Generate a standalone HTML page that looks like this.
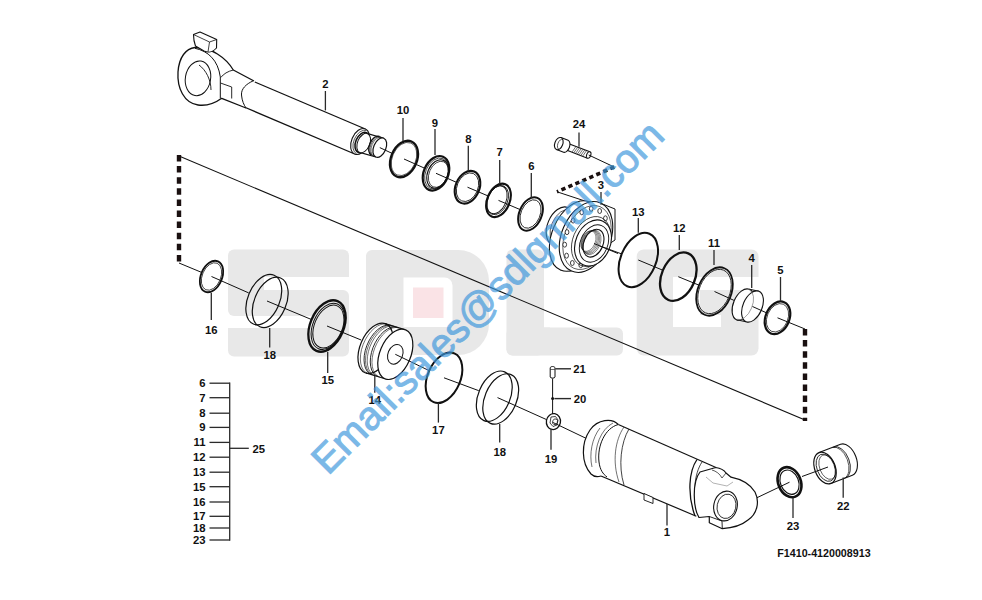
<!DOCTYPE html>
<html><head><meta charset="utf-8"><style>
html,body{margin:0;padding:0;background:#fff;}
svg{display:block;}
text{font-family:"Liberation Sans",sans-serif;font-weight:bold;font-size:11.3px;fill:#111;}
.wm{font-family:"Liberation Sans",sans-serif;font-weight:normal;font-size:40px;fill:#3d97dc;stroke:#3d97dc;stroke-width:1.0px;}
</style></head><body>
<svg width="982" height="600" viewBox="0 0 982 600">
<rect x="228" y="249.5" width="121" height="27.5" rx="6" fill="#e8e8e8"/>
<rect x="300" y="265" width="49" height="12" rx="0" fill="#e8e8e8"/>
<rect x="228" y="290" width="121" height="26" rx="6" fill="#e8e8e8"/>
<rect x="228" y="328" width="121" height="28.5" rx="6" fill="#e8e8e8"/>
<rect x="228" y="328" width="40" height="12" rx="0" fill="#e8e8e8"/>
<rect x="228" y="270" width="36" height="27" rx="0" fill="#e8e8e8"/>
<rect x="313" y="310" width="36" height="25" rx="0" fill="#e8e8e8"/>
<path d="M372,250 H458 A31,31 0 0 1 489,281 V324 A31,31 0 0 1 458,355 H372 A6,6 0 0 1 366,349 V256 A6,6 0 0 1 372,250 Z" fill="#e8e8e8" stroke="none" stroke-width="0" stroke-linejoin="round" />
<path d="M403.5,277.5 H444.5 A8,8 0 0 1 452.5,285.5 V324 A3,3 0 0 1 449.5,327 H403.5 Z" fill="white" stroke="none" stroke-width="0" stroke-linejoin="round" />
<rect x="413" y="287.5" width="30.5" height="30.5" rx="0" fill="#fae3e6"/>
<rect x="506.5" y="249.5" width="37.5" height="106" rx="6" fill="#e8e8e8"/>
<rect x="506.5" y="327.5" width="116.5" height="28" rx="6" fill="#e8e8e8"/>
<rect x="530" y="327.5" width="20" height="15" rx="0" fill="#e8e8e8"/>
<rect x="636.7" y="249.5" width="121.8" height="106" rx="7" fill="#e8e8e8"/>
<rect x="673" y="277" width="86" height="13" rx="0" fill="white"/>
<rect x="673" y="277" width="27" height="50" rx="0" fill="white"/>
<rect x="673" y="315" width="48" height="12" rx="0" fill="white"/>
<line x1="179" y1="156" x2="805" y2="420" stroke="#111" stroke-width="1.1" />
<line x1="179" y1="155" x2="179" y2="264" stroke="#1a1010" stroke-width="4.4" stroke-dasharray="6.5 4.6"/>
<line x1="805" y1="329" x2="805" y2="421" stroke="#1a1010" stroke-width="4.4" stroke-dasharray="6.5 4.6"/>
<path d="M254.81,81.98 L365.31,128.98 L354.69,154.02 L244.19,107.02 Z" fill="white" stroke="none" stroke-width="0" stroke-linejoin="round" />
<line x1="254.81" y1="81.98" x2="365.31" y2="128.98" stroke="#111" stroke-width="1.3" />
<line x1="244.19" y1="107.02" x2="354.69" y2="154.02" stroke="#111" stroke-width="1.3" />
<ellipse cx="360" cy="141.5" rx="8.43" ry="13.6" transform="rotate(23 360 141.5)" fill="white" stroke="#111" stroke-width="1.1" />
<path d="M366.4,130.53 A7.81,12.6 23.0 0 0 356.55,153.72" fill="none" stroke="#111" stroke-width="0.7" stroke-linejoin="round" />
<ellipse cx="362.3" cy="142.48" rx="6.57" ry="10.6" transform="rotate(23 362.3 142.48)" fill="white" stroke="#111" stroke-width="1.5" />
<path d="M367.67,133.67 L383.79,138.21 L375.81,156.99 L359.7,152.45 Z" fill="white" stroke="none" stroke-width="0" stroke-linejoin="round" />
<line x1="367.67" y1="133.67" x2="383.79" y2="138.21" stroke="#111" stroke-width="1.2" />
<line x1="359.7" y1="152.45" x2="375.81" y2="156.99" stroke="#111" stroke-width="1.2" />
<ellipse cx="363.68" cy="143.06" rx="6.12" ry="10.2" transform="rotate(23 363.68 143.06)" fill="white" stroke="#111" stroke-width="1.0" />
<path d="M379.37,136.34 A6.12,10.2 23.0 0 0 371.4,155.11" fill="none" stroke="#111" stroke-width="1.3" stroke-linejoin="round" />
<path d="M380.75,136.92 A6.12,10.2 23.0 0 0 372.78,155.7" fill="none" stroke="#111" stroke-width="0.7" stroke-linejoin="round" />
<path d="M381.85,137.39 A6.12,10.2 23.0 0 0 373.88,156.17" fill="none" stroke="#111" stroke-width="0.6" stroke-linejoin="round" />
<ellipse cx="379.8" cy="147.6" rx="6.12" ry="10.2" transform="rotate(23 379.8 147.6)" fill="white" stroke="#111" stroke-width="1.2" />
<path d="M195,47.5 C211,47 226,58 233.3,70 L254,81 L246,108 L221.7,98.3 C214,104 206,106 198,105 C184,103 177,88 178,72 C179,57 186,48.5 195,47.5 Z" fill="white" stroke="none" stroke-width="0" stroke-linejoin="round" />
<path d="M254,81 L233.3,70 C226,58 211,47 195,47.5 C186,48.5 179,57 178,72 C177,88 184,103 198,105 C206,106 214,104 221.7,98.3 L246,108" fill="none" stroke="#111" stroke-width="1.3" stroke-linejoin="round" />
<path d="M195,48.3 C208,51 218,60 220.3,77 L220.3,98.3" fill="none" stroke="#111" stroke-width="1.0" stroke-linejoin="round" />
<path d="M233.3,70 Q225,72 220.8,77.5" fill="none" stroke="#111" stroke-width="0.9" stroke-linejoin="round" />
<path d="M253.3,80.8 C246,84 241,89 241.5,95 C242,101 244,105 246,108" fill="none" stroke="#111" stroke-width="1.0" stroke-linejoin="round" />
<path d="M220.5,83 L231.7,87 L231.7,98.5" fill="none" stroke="#111" stroke-width="0.9" stroke-linejoin="round" />
<ellipse cx="198" cy="78.3" rx="12.6" ry="17.5" transform="rotate(10 198 78.3)" fill="none" stroke="#111" stroke-width="1.0" />
<path d="M199,65 C206,70 211,80 211,90" fill="none" stroke="#111" stroke-width="0.9" stroke-linejoin="round" />
<path d="M193.5,34.5 L200,32 L216.7,39.5 L216.5,48 C213,52 208,53 204,51 L195.5,46 C194,42 193.5,38 193.5,34.5 Z" fill="white" stroke="#111" stroke-width="1.1" stroke-linejoin="round" />
<path d="M193.5,34.5 L209.5,42 L216.7,39.5 M209.5,42 L208,52" fill="none" stroke="#111" stroke-width="0.8" stroke-linejoin="round" />
<text x="325.4" y="88.3" text-anchor="middle">2</text>
<line x1="325.4" y1="91" x2="325.4" y2="110.4" stroke="#2a2a2a" stroke-width="1.3" />
<line x1="379.8" y1="147.6" x2="392.69" y2="153.67" stroke="#111" stroke-width="1.0" />
<ellipse cx="404" cy="159" rx="12.92" ry="19" transform="rotate(23 404 159)" fill="none" stroke="#111" stroke-width="2.3" />
<ellipse cx="404" cy="159" rx="11.76" ry="17.3" transform="rotate(23 404 159)" fill="none" stroke="#111" stroke-width="0.6" />
<text x="403" y="113.8" text-anchor="middle">10</text>
<line x1="403" y1="118" x2="403" y2="141" stroke="#2a2a2a" stroke-width="1.3" />
<line x1="404" y1="159" x2="425.04" y2="168.4" stroke="#111" stroke-width="1.0" />
<ellipse cx="436" cy="173.3" rx="12.24" ry="18" transform="rotate(23 436 173.3)" fill="none" stroke="#111" stroke-width="2.2" />
<ellipse cx="436.55" cy="173.53" rx="11.02" ry="16.2" transform="rotate(23 436.55 173.53)" fill="none" stroke="#111" stroke-width="0.7" />
<ellipse cx="437.66" cy="174" rx="10.06" ry="14.8" transform="rotate(23 437.66 174)" fill="none" stroke="#111" stroke-width="1.1" />
<ellipse cx="438.39" cy="174.32" rx="9.25" ry="13.6" transform="rotate(23 438.39 174.32)" fill="none" stroke="#111" stroke-width="0.7" />
<text x="435" y="126.8" text-anchor="middle">9</text>
<line x1="435" y1="129" x2="435" y2="155" stroke="#2a2a2a" stroke-width="1.3" />
<line x1="436" y1="173.3" x2="456.98" y2="182.56" stroke="#111" stroke-width="1.0" />
<ellipse cx="467.5" cy="187.2" rx="11.9" ry="17" transform="rotate(23 467.5 187.2)" fill="none" stroke="#111" stroke-width="2.1" />
<ellipse cx="467.5" cy="187.2" rx="10.43" ry="14.9" transform="rotate(23 467.5 187.2)" fill="none" stroke="#111" stroke-width="0.8" />
<text x="468.3" y="142.5" text-anchor="middle">8</text>
<line x1="468.3" y1="145.8" x2="468.3" y2="170.8" stroke="#2a2a2a" stroke-width="1.3" />
<line x1="467.5" y1="187.2" x2="488.38" y2="196.09" stroke="#111" stroke-width="1.0" />
<ellipse cx="498.5" cy="200.4" rx="11.2" ry="17.5" transform="rotate(23 498.5 200.4)" fill="none" stroke="#111" stroke-width="2.1" />
<ellipse cx="497.76" cy="200.09" rx="9.79" ry="15.3" transform="rotate(23 497.76 200.09)" fill="none" stroke="#111" stroke-width="0.8" />
<ellipse cx="496.84" cy="199.7" rx="9.34" ry="14.6" transform="rotate(23 496.84 199.7)" fill="none" stroke="#111" stroke-width="0.9" />
<text x="499.7" y="155.8" text-anchor="middle">7</text>
<line x1="499.7" y1="160" x2="499.7" y2="184" stroke="#2a2a2a" stroke-width="1.3" />
<line x1="498.5" y1="200.4" x2="520.38" y2="209.7" stroke="#111" stroke-width="1.0" />
<ellipse cx="530.5" cy="214" rx="11.2" ry="17.5" transform="rotate(23 530.5 214)" fill="none" stroke="#111" stroke-width="2.0" />
<ellipse cx="530.5" cy="214" rx="9.54" ry="14.9" transform="rotate(23 530.5 214)" fill="none" stroke="#111" stroke-width="0.8" />
<text x="531.3" y="169.8" text-anchor="middle">6</text>
<line x1="531.3" y1="173" x2="531.3" y2="198" stroke="#2a2a2a" stroke-width="1.3" />
<path d="M567.48,143.23 L589.9,151.82 L587.5,158.18 L565.09,149.6 Z" fill="white" stroke="none" stroke-width="0" stroke-linejoin="round" />
<line x1="567.48" y1="143.23" x2="589.9" y2="151.82" stroke="#111" stroke-width="1.1" />
<line x1="565.09" y1="149.6" x2="587.5" y2="158.18" stroke="#111" stroke-width="1.1" />
<line x1="575.8" y1="146.68" x2="572.12" y2="151.92" stroke="#111" stroke-width="0.6" />
<line x1="577.58" y1="147.35" x2="573.9" y2="152.59" stroke="#111" stroke-width="0.6" />
<line x1="579.36" y1="148.02" x2="575.68" y2="153.26" stroke="#111" stroke-width="0.6" />
<line x1="581.14" y1="148.69" x2="577.46" y2="153.93" stroke="#111" stroke-width="0.6" />
<line x1="582.92" y1="149.35" x2="579.24" y2="154.59" stroke="#111" stroke-width="0.6" />
<line x1="584.7" y1="150.02" x2="581.02" y2="155.26" stroke="#111" stroke-width="0.6" />
<line x1="586.47" y1="150.69" x2="582.8" y2="155.93" stroke="#111" stroke-width="0.6" />
<ellipse cx="588.7" cy="155" rx="2.04" ry="3.4" transform="rotate(20.6 588.7 155)" fill="white" stroke="#111" stroke-width="1.0" />
<path d="M561.05,137.61 L568.07,140.25 A3.84,6.4 20.6 0 1 563.57,152.23 L556.55,149.59 Z" fill="white" stroke="#111" stroke-width="1.1" stroke-linejoin="round" />
<ellipse cx="558.8" cy="143.6" rx="3.97" ry="6.4" transform="rotate(20.6 558.8 143.6)" fill="white" stroke="#111" stroke-width="1.1" />
<path d="M563.11,139.24 A3.47,5.6 20.6 0 0 559.17,149.72" fill="none" stroke="#111" stroke-width="0.7" stroke-linejoin="round" />
<text x="579" y="128.3" text-anchor="middle">24</text>
<line x1="579" y1="132.5" x2="579" y2="146.7" stroke="#2a2a2a" stroke-width="1.3" />
<line x1="588.7" y1="155" x2="614.2" y2="167" stroke="#111" stroke-width="1.0" />
<line x1="614.2" y1="167" x2="557" y2="191.8" stroke="#1a1010" stroke-width="3.6" stroke-dasharray="4.3 3.3"/>
<line x1="557" y1="191.8" x2="589.5" y2="202.5" stroke="#111" stroke-width="1.0" />
<path d="M600,203 L615,209 L615,240 L610.5,243" fill="white" stroke="#111" stroke-width="1.0" stroke-linejoin="round" />
<ellipse cx="560" cy="226" rx="12.4" ry="20" transform="rotate(23 560 226)" fill="white" stroke="#111" stroke-width="1.1" />
<path d="M570.42,210.01 A11.78,19 23.0 0 0 555.58,244.99" fill="none" stroke="#111" stroke-width="0.7" stroke-linejoin="round" />
<path d="M589.46,201.94 L600.46,202.94 L571.54,271.06 L560.54,270.06 Z" fill="white" stroke="none" stroke-width="0" stroke-linejoin="round" />
<line x1="589.46" y1="201.94" x2="600.46" y2="202.94" stroke="#111" stroke-width="1.1" />
<line x1="560.54" y1="270.06" x2="571.54" y2="271.06" stroke="#111" stroke-width="1.1" />
<ellipse cx="575" cy="236" rx="22.94" ry="37" transform="rotate(23 575 236)" fill="white" stroke="#111" stroke-width="1.1" />
<ellipse cx="586" cy="237" rx="24.42" ry="37" transform="rotate(23 586 237)" fill="white" stroke="#111" stroke-width="1.1" />
<ellipse cx="587" cy="237.5" rx="22.11" ry="33.5" transform="rotate(23 587 237.5)" fill="none" stroke="#111" stroke-width="0.6" />
<ellipse cx="573.1" cy="220.56" rx="1.88" ry="2.5" transform="rotate(0 573.1 220.56)" fill="white" stroke="#111" stroke-width="0.8" />
<ellipse cx="581.74" cy="212.25" rx="1.88" ry="2.5" transform="rotate(0 581.74 212.25)" fill="white" stroke="#111" stroke-width="0.8" />
<ellipse cx="591.22" cy="208.84" rx="1.88" ry="2.5" transform="rotate(0 591.22 208.84)" fill="white" stroke="#111" stroke-width="0.8" />
<ellipse cx="599.67" cy="211" rx="1.88" ry="2.5" transform="rotate(0 599.67 211)" fill="white" stroke="#111" stroke-width="0.8" />
<ellipse cx="605.41" cy="218.32" rx="1.88" ry="2.5" transform="rotate(0 605.41 218.32)" fill="white" stroke="#111" stroke-width="0.8" />
<ellipse cx="607.3" cy="229.33" rx="1.88" ry="2.5" transform="rotate(0 607.3 229.33)" fill="white" stroke="#111" stroke-width="0.8" />
<ellipse cx="604.98" cy="241.87" rx="1.88" ry="2.5" transform="rotate(0 604.98 241.87)" fill="white" stroke="#111" stroke-width="0.8" />
<ellipse cx="598.9" cy="253.44" rx="1.88" ry="2.5" transform="rotate(0 598.9 253.44)" fill="white" stroke="#111" stroke-width="0.8" />
<ellipse cx="590.26" cy="261.75" rx="1.88" ry="2.5" transform="rotate(0 590.26 261.75)" fill="white" stroke="#111" stroke-width="0.8" />
<ellipse cx="580.78" cy="265.16" rx="1.88" ry="2.5" transform="rotate(0 580.78 265.16)" fill="white" stroke="#111" stroke-width="0.8" />
<ellipse cx="572.33" cy="263" rx="1.88" ry="2.5" transform="rotate(0 572.33 263)" fill="white" stroke="#111" stroke-width="0.8" />
<ellipse cx="566.59" cy="255.68" rx="1.88" ry="2.5" transform="rotate(0 566.59 255.68)" fill="white" stroke="#111" stroke-width="0.8" />
<ellipse cx="564.7" cy="244.67" rx="1.88" ry="2.5" transform="rotate(0 564.7 244.67)" fill="white" stroke="#111" stroke-width="0.8" />
<ellipse cx="567.02" cy="232.13" rx="1.88" ry="2.5" transform="rotate(0 567.02 232.13)" fill="white" stroke="#111" stroke-width="0.8" />
<ellipse cx="591" cy="241.5" rx="18.2" ry="26" transform="rotate(23 591 241.5)" fill="none" stroke="#111" stroke-width="0.7" />
<ellipse cx="593" cy="243" rx="17.28" ry="24" transform="rotate(23 593 243)" fill="white" stroke="#111" stroke-width="1.1" />
<ellipse cx="594" cy="243.5" rx="13.65" ry="19.5" transform="rotate(23 594 243.5)" fill="none" stroke="#111" stroke-width="0.9" />
<ellipse cx="593.5" cy="243.2" rx="9.57" ry="14.5" transform="rotate(23 593.5 243.2)" fill="white" stroke="#111" stroke-width="1.1" />
<ellipse cx="592" cy="242.5" rx="8.19" ry="12.8" transform="rotate(23 592 242.5)" fill="none" stroke="#111" stroke-width="0.45" />
<ellipse cx="591.1" cy="242.15" rx="7.87" ry="12.3" transform="rotate(23 591.1 242.15)" fill="none" stroke="#111" stroke-width="0.45" />
<ellipse cx="590.2" cy="241.8" rx="7.55" ry="11.8" transform="rotate(23 590.2 241.8)" fill="none" stroke="#111" stroke-width="0.45" />
<ellipse cx="589.3" cy="241.45" rx="7.23" ry="11.3" transform="rotate(23 589.3 241.45)" fill="none" stroke="#111" stroke-width="0.45" />
<ellipse cx="588.4" cy="241.1" rx="6.91" ry="10.8" transform="rotate(23 588.4 241.1)" fill="none" stroke="#111" stroke-width="0.45" />
<line x1="594" y1="243.5" x2="618" y2="253.5" stroke="#111" stroke-width="1.0" />
<text x="601" y="188.8" text-anchor="middle">3</text>
<line x1="601" y1="192" x2="601" y2="204.7" stroke="#2a2a2a" stroke-width="1.3" />
<line x1="600" y1="246" x2="621.86" y2="253.99" stroke="#111" stroke-width="1.0" />
<ellipse cx="638.3" cy="260" rx="17.67" ry="28.5" transform="rotate(23 638.3 260)" fill="none" stroke="#111" stroke-width="2.0" />
<text x="638.3" y="215.5" text-anchor="middle">13</text>
<line x1="638.3" y1="218" x2="638.3" y2="232.7" stroke="#2a2a2a" stroke-width="1.3" />
<line x1="638.3" y1="260" x2="662.15" y2="269.96" stroke="#111" stroke-width="1.0" />
<ellipse cx="678.3" cy="276.7" rx="16.7" ry="25.3" transform="rotate(23 678.3 276.7)" fill="none" stroke="#111" stroke-width="2.3" />
<text x="679.3" y="231.8" text-anchor="middle">12</text>
<line x1="679.3" y1="235" x2="679.3" y2="250" stroke="#2a2a2a" stroke-width="1.3" />
<line x1="678.3" y1="276.7" x2="698.76" y2="285.07" stroke="#111" stroke-width="1.0" />
<ellipse cx="714.5" cy="291.5" rx="16.7" ry="25.3" transform="rotate(23 714.5 291.5)" fill="none" stroke="#111" stroke-width="1.8" />
<ellipse cx="714.5" cy="291.5" rx="15.31" ry="23.2" transform="rotate(23 714.5 291.5)" fill="none" stroke="#111" stroke-width="0.8" />
<text x="714" y="246.8" text-anchor="middle">11</text>
<line x1="714" y1="250" x2="714" y2="265" stroke="#2a2a2a" stroke-width="1.3" />
<line x1="714.5" y1="291.5" x2="733.9" y2="300.35" stroke="#111" stroke-width="1.0" />
<path d="M749.45,289.31 L758.95,291.31 L746.05,321.69 L736.55,319.69 Z" fill="white" stroke="none" stroke-width="0" stroke-linejoin="round" />
<line x1="749.45" y1="289.31" x2="758.95" y2="291.31" stroke="#111" stroke-width="1.1" />
<line x1="736.55" y1="319.69" x2="746.05" y2="321.69" stroke="#111" stroke-width="1.1" />
<ellipse cx="743" cy="304.5" rx="9.57" ry="16.5" transform="rotate(23 743 304.5)" fill="white" stroke="#111" stroke-width="1.1" />
<ellipse cx="752.5" cy="306.5" rx="9.57" ry="16.5" transform="rotate(23 752.5 306.5)" fill="white" stroke="#111" stroke-width="1.1" />
<path d="M749.25,289.77 A9.28,16 23.0 0 1 736.75,319.23" fill="none" stroke="#777" stroke-width="0.7" stroke-linejoin="round" />
<text x="751.7" y="261.8" text-anchor="middle">4</text>
<line x1="751.7" y1="265" x2="751.7" y2="288" stroke="#2a2a2a" stroke-width="1.3" />
<line x1="752.5" y1="306.5" x2="767.48" y2="313.27" stroke="#111" stroke-width="1.0" />
<ellipse cx="777.5" cy="317.8" rx="11.9" ry="17" transform="rotate(23 777.5 317.8)" fill="none" stroke="#111" stroke-width="2.2" />
<ellipse cx="777.5" cy="317.8" rx="10.36" ry="14.8" transform="rotate(23 777.5 317.8)" fill="none" stroke="#111" stroke-width="0.7" />
<text x="780.5" y="273.8" text-anchor="middle">5</text>
<line x1="780.5" y1="277" x2="780.5" y2="301" stroke="#2a2a2a" stroke-width="1.3" />
<line x1="777.5" y1="317.8" x2="805" y2="329" stroke="#111" stroke-width="1.0" />
<line x1="179" y1="263" x2="201.8" y2="272.47" stroke="#111" stroke-width="1.0" />
<ellipse cx="211.5" cy="276.5" rx="10.56" ry="16.5" transform="rotate(23 211.5 276.5)" fill="none" stroke="#111" stroke-width="1.8" />
<ellipse cx="211.5" cy="276.5" rx="9.22" ry="14.4" transform="rotate(23 211.5 276.5)" fill="none" stroke="#111" stroke-width="0.7" />
<text x="211.3" y="334.2" text-anchor="middle">16</text>
<line x1="211.3" y1="293" x2="211.3" y2="320" stroke="#2a2a2a" stroke-width="1.3" />
<line x1="211.5" y1="276.5" x2="248.7" y2="292.92" stroke="#111" stroke-width="1.0" />
<ellipse cx="263.78" cy="299.63" rx="15.9" ry="26.5" transform="rotate(23 263.78 299.63)" fill="none" stroke="#111" stroke-width="1.2" />
<ellipse cx="270.22" cy="302.37" rx="15.9" ry="26.5" transform="rotate(23 270.22 302.37)" fill="none" stroke="#111" stroke-width="1.2" />
<text x="269.7" y="358.8" text-anchor="middle">18</text>
<line x1="269.7" y1="328" x2="269.7" y2="347.6" stroke="#2a2a2a" stroke-width="1.3" />
<line x1="267" y1="301" x2="311.77" y2="319.65" stroke="#111" stroke-width="1.0" />
<ellipse cx="327" cy="326" rx="16.74" ry="27" transform="rotate(23 327 326)" fill="none" stroke="#111" stroke-width="2.3" />
<ellipse cx="327.92" cy="326.39" rx="15.07" ry="24.3" transform="rotate(23 327.92 326.39)" fill="none" stroke="#111" stroke-width="1.0" />
<ellipse cx="328.38" cy="326.59" rx="13.95" ry="22.5" transform="rotate(23 328.38 326.59)" fill="none" stroke="#111" stroke-width="1.0" />
<text x="327.7" y="383.8" text-anchor="middle">15</text>
<line x1="327.7" y1="352" x2="327.7" y2="373" stroke="#2a2a2a" stroke-width="1.3" />
<line x1="327" y1="326" x2="361.17" y2="340.02" stroke="#111" stroke-width="1.0" />
<path d="M384.95,323.58 L404.75,329.58 L385.85,379.02 L366.05,373.02 Z" fill="white" stroke="none" stroke-width="0" stroke-linejoin="round" />
<ellipse cx="375.5" cy="348.3" rx="15.37" ry="26.5" transform="rotate(23 375.5 348.3)" fill="white" stroke="#111" stroke-width="1.2" />
<line x1="384.95" y1="323.58" x2="404.75" y2="329.58" stroke="#111" stroke-width="1.2" />
<line x1="366.05" y1="373.02" x2="385.85" y2="379.02" stroke="#111" stroke-width="1.2" />
<path d="M387.33,324.3 A15.37,26.5 23 0 0 368.42,373.74" fill="none" stroke="#111" stroke-width="0.6" stroke-linejoin="round" />
<path d="M390.89,325.38 A15.37,26.5 23 0 0 371.99,374.82" fill="none" stroke="#111" stroke-width="0.9" stroke-linejoin="round" />
<path d="M392.48,325.86 A15.37,26.5 23 0 0 373.57,375.3" fill="none" stroke="#111" stroke-width="0.6" stroke-linejoin="round" />
<path d="M394.06,326.34 A15.37,26.5 23 0 0 375.16,375.78" fill="none" stroke="#111" stroke-width="0.6" stroke-linejoin="round" />
<path d="M397.23,327.3 A15.37,26.5 23 0 0 378.32,376.74" fill="none" stroke="#111" stroke-width="0.9" stroke-linejoin="round" />
<path d="M398.81,327.78 A15.37,26.5 23 0 0 379.91,377.22" fill="none" stroke="#111" stroke-width="0.6" stroke-linejoin="round" />
<ellipse cx="395.3" cy="354.3" rx="15.37" ry="26.5" transform="rotate(23 395.3 354.3)" fill="white" stroke="#111" stroke-width="1.2" />
<ellipse cx="395.3" cy="354.3" rx="7.34" ry="10.2" transform="rotate(23 395.3 354.3)" fill="none" stroke="#111" stroke-width="1.0" />
<text x="374.8" y="404.3" text-anchor="middle">14</text>
<line x1="374.8" y1="376" x2="374.8" y2="392.7" stroke="#2a2a2a" stroke-width="1.3" />
<line x1="395.3" y1="354.3" x2="429.14" y2="370.63" stroke="#111" stroke-width="1.0" />
<ellipse cx="444" cy="377.8" rx="16.43" ry="26.5" transform="rotate(23 444 377.8)" fill="none" stroke="#111" stroke-width="2.0" />
<text x="438.4" y="434.3" text-anchor="middle">17</text>
<line x1="438.4" y1="403" x2="438.4" y2="422.6" stroke="#2a2a2a" stroke-width="1.3" />
<line x1="444" y1="377.8" x2="478.74" y2="390.66" stroke="#111" stroke-width="1.0" />
<ellipse cx="494.28" cy="396.23" rx="15.9" ry="26.5" transform="rotate(23 494.28 396.23)" fill="none" stroke="#111" stroke-width="1.2" />
<ellipse cx="500.72" cy="398.97" rx="15.9" ry="26.5" transform="rotate(23 500.72 398.97)" fill="none" stroke="#111" stroke-width="1.2" />
<text x="499.7" y="455.6" text-anchor="middle">18</text>
<line x1="499.7" y1="424" x2="499.7" y2="442.6" stroke="#2a2a2a" stroke-width="1.3" />
<line x1="497.5" y1="397.6" x2="546.61" y2="419.63" stroke="#111" stroke-width="1.0" />
<ellipse cx="553.4" cy="421.6" rx="7.04" ry="8" transform="rotate(10 553.4 421.6)" fill="white" stroke="#111" stroke-width="1.3" />
<path d="M551,417 L555.5,416.5 L558,420 L557,425 L553,426.5 L550,423 Z" fill="none" stroke="#111" stroke-width="0.8" stroke-linejoin="round" />
<ellipse cx="555" cy="421.8" rx="2.4" ry="3" transform="rotate(23 555 421.8)" fill="none" stroke="#111" stroke-width="0.7" />
<text x="551" y="462.8" text-anchor="middle">19</text>
<line x1="551" y1="429" x2="551" y2="449.7" stroke="#2a2a2a" stroke-width="1.3" />
<path d="M550.2,368 C550.2,366 555,366 555,368 L555,377 C555,378.5 550.2,378.5 550.2,377 Z" fill="white" stroke="#111" stroke-width="1.0" stroke-linejoin="round" />
<line x1="550.4" y1="369.5" x2="554.8" y2="369.5" stroke="#111" stroke-width="0.6" />
<line x1="552.6" y1="378.5" x2="552.6" y2="414" stroke="#111" stroke-width="1.0" />
<line x1="555.3" y1="368.8" x2="571" y2="368.8" stroke="#2a2a2a" stroke-width="1.4" />
<text x="579.5" y="373" text-anchor="middle">21</text>
<circle cx="552.6" cy="398.4" r="1.5" fill="#111"/>
<line x1="554.4" y1="398.6" x2="571" y2="398.6" stroke="#2a2a2a" stroke-width="1.4" />
<text x="580" y="402.8" text-anchor="middle">20</text>
<line x1="553" y1="422.5" x2="587.37" y2="438.95" stroke="#111" stroke-width="1.0" />
<path d="M618.3,424.5 L716,467.5 L696.3,516.2 L601,476 Z" fill="white" stroke="none" stroke-width="0" stroke-linejoin="round" />
<line x1="618.3" y1="424.5" x2="716" y2="467.5" stroke="#111" stroke-width="1.2" />
<line x1="601" y1="476" x2="696.3" y2="516.2" stroke="#111" stroke-width="1.2" />
<path d="M618.3,424.5 C612,418 598,419 590,430 C581,443 581,463 591,474 C594,477 598,477 601,476" fill="white" stroke="#111" stroke-width="1.2" stroke-linejoin="round" />
<path d="M618.3,424.5 C605,428 597,446 599,462 C600,470 603,474 607,477" fill="none" stroke="#111" stroke-width="1.0" stroke-linejoin="round" />
<path d="M613,423 C601,429 594,447 596,463" fill="none" stroke="#111" stroke-width="0.6" stroke-linejoin="round" />
<path d="M600,428 C592,438 589,454 592,467" fill="none" stroke="#111" stroke-width="0.6" stroke-linejoin="round" />
<path d="M624,427 C615,440 612,462 619,482" fill="none" stroke="#111" stroke-width="0.6" stroke-linejoin="round" />
<path d="M629,429 C621,442 618,466 624,485" fill="none" stroke="#111" stroke-width="0.8" stroke-linejoin="round" />
<path d="M697,459.5 C689,471 687,494 695,516" fill="none" stroke="#111" stroke-width="1.3" stroke-linejoin="round" />
<path d="M702,462 C694,474 692,496 699,517.5" fill="none" stroke="#111" stroke-width="0.8" stroke-linejoin="round" />
<path d="M715.8,467.5 C720,468 724,470 726,473 L731,477.2 C740,479 750,484 755,492 C760,502 757,514 748,520 C742,525 733,528 722.3,528.7 L709.3,522.7 L709.3,516.5 L699,517.5 C693,508 692,482 700,472 Z" fill="white" stroke="#111" stroke-width="1.2" stroke-linejoin="round" />
<path d="M712,470 C716,471 720,474 722,478 L726,473" fill="none" stroke="#111" stroke-width="0.7" stroke-linejoin="round" />
<path d="M706,477 L713,483 L727,486 L733,482" fill="none" stroke="#666" stroke-width="0.5" stroke-linejoin="round" />
<ellipse cx="725.5" cy="506" rx="11.7" ry="15" transform="rotate(12 725.5 506)" fill="white" stroke="#111" stroke-width="1.1" />
<ellipse cx="726.5" cy="506.3" rx="9.35" ry="12.3" transform="rotate(12 726.5 506.3)" fill="none" stroke="#111" stroke-width="0.8" />
<path d="M709.3,516.5 L722,521 L722.3,528.7" fill="none" stroke="#111" stroke-width="0.9" stroke-linejoin="round" />
<path d="M644,493.5 L653,497.5 L653,503.5 L644,500 Z" fill="white" stroke="#111" stroke-width="0.9" stroke-linejoin="round" />
<text x="667" y="535.7" text-anchor="middle">1</text>
<line x1="667" y1="504" x2="667" y2="525.5" stroke="#2a2a2a" stroke-width="1.3" />
<line x1="757" y1="497.7" x2="789.5" y2="482.2" stroke="#111" stroke-width="1.0" />
<ellipse cx="789.5" cy="482.2" rx="11.23" ry="15.6" transform="rotate(-22 789.5 482.2)" fill="none" stroke="#111" stroke-width="2.6" />
<ellipse cx="789.5" cy="482.2" rx="9.07" ry="12.6" transform="rotate(-22 789.5 482.2)" fill="none" stroke="#111" stroke-width="1.2" />
<text x="793" y="529.8" text-anchor="middle">23</text>
<line x1="793" y1="497.7" x2="793" y2="518" stroke="#2a2a2a" stroke-width="1.3" />
<path d="M819.09,452.6 L840.56,444.35 A9.9,16.5 -21 0 1 852.39,475.16 L830.91,483.4 Z" fill="white" stroke="#111" stroke-width="1.1" stroke-linejoin="round" />
<path d="M832.16,447.58 A9.9,16.5 -21 0 1 843.98,478.39" fill="none" stroke="#111" stroke-width="0.7" stroke-linejoin="round" />
<path d="M833.56,447.04 A9.9,16.5 -21 0 1 845.38,477.85" fill="none" stroke="#111" stroke-width="0.9" stroke-linejoin="round" />
<ellipse cx="825" cy="468" rx="10.23" ry="16.5" transform="rotate(-21 825 468)" fill="white" stroke="#111" stroke-width="1.2" />
<ellipse cx="825.75" cy="467.71" rx="8.8" ry="14.2" transform="rotate(-21 825.75 467.71)" fill="none" stroke="#111" stroke-width="0.8" />
<ellipse cx="827.33" cy="467.1" rx="7.68" ry="12.8" transform="rotate(-21 827.33 467.1)" fill="none" stroke="#111" stroke-width="0.6" />
<line x1="802" y1="476.5" x2="828" y2="467" stroke="#111" stroke-width="1.0" />
<text x="843.2" y="509.6" text-anchor="middle">22</text>
<line x1="843.2" y1="477.6" x2="843.2" y2="497.8" stroke="#2a2a2a" stroke-width="1.3" />
<text x="205.5" y="387" text-anchor="end">6</text>
<line x1="209.5" y1="383.2" x2="229.7" y2="383.2" stroke="#2a2a2a" stroke-width="1.3" />
<text x="205.5" y="401.5" text-anchor="end">7</text>
<line x1="209.5" y1="397.7" x2="229.7" y2="397.7" stroke="#2a2a2a" stroke-width="1.3" />
<text x="205.5" y="417" text-anchor="end">8</text>
<line x1="209.5" y1="413.2" x2="229.7" y2="413.2" stroke="#2a2a2a" stroke-width="1.3" />
<text x="205.5" y="431.2" text-anchor="end">9</text>
<line x1="209.5" y1="427.4" x2="229.7" y2="427.4" stroke="#2a2a2a" stroke-width="1.3" />
<text x="205.5" y="446.2" text-anchor="end">11</text>
<line x1="209.5" y1="442.4" x2="229.7" y2="442.4" stroke="#2a2a2a" stroke-width="1.3" />
<text x="205.5" y="461" text-anchor="end">12</text>
<line x1="209.5" y1="457.2" x2="229.7" y2="457.2" stroke="#2a2a2a" stroke-width="1.3" />
<text x="205.5" y="476" text-anchor="end">13</text>
<line x1="209.5" y1="472.2" x2="229.7" y2="472.2" stroke="#2a2a2a" stroke-width="1.3" />
<text x="205.5" y="490.5" text-anchor="end">15</text>
<line x1="209.5" y1="486.7" x2="229.7" y2="486.7" stroke="#2a2a2a" stroke-width="1.3" />
<text x="205.5" y="505.8" text-anchor="end">16</text>
<line x1="209.5" y1="502" x2="229.7" y2="502" stroke="#2a2a2a" stroke-width="1.3" />
<text x="205.5" y="520.1" text-anchor="end">17</text>
<line x1="209.5" y1="516.3" x2="229.7" y2="516.3" stroke="#2a2a2a" stroke-width="1.3" />
<text x="205.5" y="531.8" text-anchor="end">18</text>
<line x1="209.5" y1="528" x2="229.7" y2="528" stroke="#2a2a2a" stroke-width="1.3" />
<text x="205.5" y="543.8" text-anchor="end">23</text>
<line x1="209.5" y1="540" x2="229.7" y2="540" stroke="#2a2a2a" stroke-width="1.3" />
<line x1="229.7" y1="382.5" x2="229.7" y2="540.7" stroke="#2a2a2a" stroke-width="1.3" />
<line x1="229.7" y1="448.3" x2="248.8" y2="448.3" stroke="#2a2a2a" stroke-width="1.3" />
<text x="252.5" y="453" text-anchor="start">25</text>
<text x="870.6" y="557.3" text-anchor="end" style="font-size:10.7px">F1410-4120008913</text>
<g opacity="0.68"><text class="wm" x="328" y="476" transform="rotate(-45 328 476)">Email:sales@sdlgmall.com</text></g>
</svg>
</body></html>
